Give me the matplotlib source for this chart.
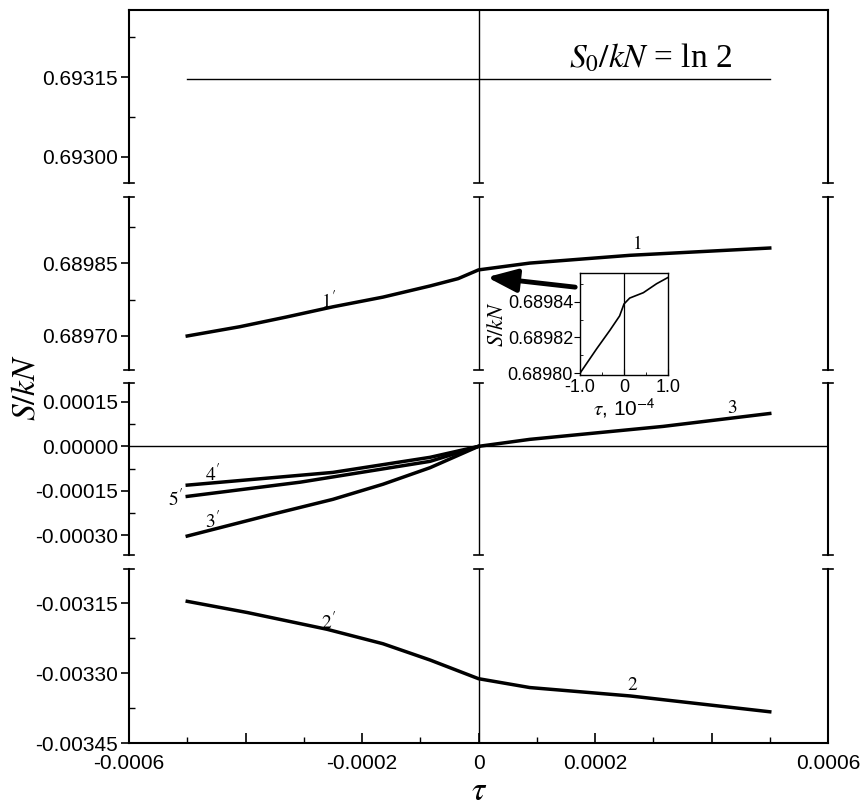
import numpy as np
import matplotlib.pyplot as plt
from matplotlib.ticker import FixedLocator, FormatStrFormatter

plt.rcParams['font.family'] = ['Liberation Sans', 'DejaVu Sans']
plt.rcParams['mathtext.fontset'] = 'stix'

# S0/kN = ln 2 reference level
tau_ln2 = [-5.0e-4, 5.0e-4]
s_ln2 = [np.log(2), np.log(2)]

# curve 1' (tau<0) and 1 (tau>0)
tau_1 = [-5.0e-4, -4.1e-4, -3.3e-4, -2.5e-4, -1.64e-4, -0.83e-4, -0.35e-4, 0.0, 0.88e-4, 2.6e-4, 5.0e-4]
s_1 = [0.68970, 0.689719, 0.689739, 0.68976, 0.68978, 0.689803, 0.689818, 0.689836, 0.68985, 0.689866, 0.689881]

# curve 3' and 3
tau_3 = [-5.0e-4, -3.53e-4, -2.5e-4, -1.64e-4, -0.83e-4, 0.0, 0.88e-4, 3.17e-4, 5.0e-4]
s_3 = [-0.000303, -0.000229, -0.000179, -0.000128, -0.000072, 0.0, 0.0000236, 0.0000674, 0.000111]

# curve 4'
tau_4 = [-5.0e-4, -2.5e-4, -0.83e-4, 0.0]
s_4 = [-0.000131, -0.000088, -0.000037, 0.0]

# curve 5'
tau_5 = [-5.0e-4, -3.06e-4, -0.83e-4, 0.0]
s_5 = [-0.000169, -0.000121, -0.0000506, 0.0]

# curve 2' and 2
tau_2 = [-5.0e-4, -3.97e-4, -2.6e-4, -1.64e-4, -0.83e-4, 0.0, 0.88e-4, 2.6e-4, 5.0e-4]
s_2 = [-0.003146, -0.003170, -0.003206, -0.003237, -0.003272, -0.003312, -0.003331, -0.003349, -0.003383]

# inset, tau in units of 1e-4
tau_in = [-1.0, -0.62, -0.32, -0.1, 0.0, 0.13, 0.44, 0.74, 1.0]
s_in = [0.68980, 0.6898137, 0.689824, 0.689832, 0.6898387, 0.689842, 0.689845, 0.68985, 0.6898535]

x_ticks = [-0.0006, -0.0004, -0.0002, 0.0, 0.0002, 0.0004, 0.0006]
x_labels = ['-0.0006', '', '-0.0002', '0', '0.0002', '', '0.0006']

# panel limits and ticks, top to bottom
ylims = [(0.692951, 0.693276), (0.68963, 0.689986), (-0.000367, 0.000214), (-0.00345, -0.0030766)]
ymajor = [[0.69300, 0.69315], [0.68970, 0.68985], [-0.0003, -0.00015, 0.0, 0.00015],
          [-0.00345, -0.0033, -0.00315]]
yminor = [[0.693075, 0.693225], [0.689775, 0.689925], [-0.000225, -0.000075, 0.000075],
          [-0.003375, -0.003225]]

fig = plt.figure(figsize=(8.63, 8.05), dpi=100)
W, H = 863, 805
left, right = 129, 828
panels_px = [(10, 183), (197, 370), (383, 555), (569, 743)]

axes = []
for i, (top, bot) in enumerate(panels_px):
    ax = fig.add_axes([left / W, 1 - bot / H, (right - left) / W, (bot - top) / H])
    ax.set_xlim(-0.0006, 0.0006)
    ax.set_ylim(*ylims[i])
    ax.yaxis.set_major_locator(FixedLocator(ymajor[i]))
    ax.yaxis.set_minor_locator(FixedLocator(yminor[i]))
    ax.yaxis.set_major_formatter(FormatStrFormatter('%.5f'))
    ax.tick_params(axis='y', which='major', direction='out', length=6, width=1.2, labelsize=15, pad=2)
    ax.tick_params(axis='y', which='minor', direction='in', length=4, width=1.0)
    for s in ax.spines.values():
        s.set_linewidth(1.5)
    ax.spines['top'].set_visible(i == 0)
    ax.spines['bottom'].set_visible(i == 3)
    ax.axvline(0, color='k', lw=1.0)
    if i < 3:
        ax.tick_params(axis='x', which='both', bottom=False, labelbottom=False)
    # break marks at the cut ends
    ends = []
    if i > 0:
        ends.append(1.0)
    if i < 3:
        ends.append(0.0)
    for yy in ends:
        for xx in (0.0, 0.5, 1.0):
            ax.plot([xx - 0.007, xx + 0.007], [yy, yy], color='k', lw=1.2,
                    transform=ax.transAxes, clip_on=False)
    axes.append(ax)

ax1, ax2, ax3, ax4 = axes

ax4.xaxis.set_major_locator(FixedLocator(x_ticks))
ax4.set_xticklabels(x_labels)
ax4.xaxis.set_minor_locator(FixedLocator(np.arange(-0.0005, 0.00051, 0.0002)))
ax4.tick_params(axis='x', which='major', direction='in', length=7, width=1.2, labelsize=15, pad=8)
ax4.tick_params(axis='x', which='minor', direction='in', length=4, width=1.0)

lw = 2.5
ax1.plot(tau_ln2, s_ln2, color='k', lw=1.0)
ax2.plot(tau_1, s_1, color='k', lw=lw)
ax3.axhline(0, color='k', lw=1.0)
ax3.plot(tau_4, s_4, color='k', lw=lw)
ax3.plot(tau_5, s_5, color='k', lw=lw)
ax3.plot(tau_3, s_3, color='k', lw=lw)
ax4.plot(tau_2, s_2, color='k', lw=lw)

lab = dict(fontsize=14, ha='center', va='center')
ax2.text(-0.000258, 0.689772, r"$1'$", **lab)
ax2.text(0.000272, 0.689889, r"$1$", **lab)
ax3.text(0.000435, 0.000127, r"$3$", **lab)
ax3.text(-0.000457, -0.000092, r"$4'$", **lab)
ax3.text(-0.000520, -0.000179, r"$5'$", **lab)
ax3.text(-0.000457, -0.000251, r"$3'$", **lab)
ax4.text(-0.000258, -0.003190, r"$2'$", **lab)
ax4.text(0.000265, -0.003327, r"$2$", **lab)

fig.text(650 / W, 1 - 58 / H, r'$S_0/kN$ = ln 2', fontsize=24, ha='center', va='center',
         family=['Liberation Serif', 'DejaVu Serif'])
fig.text(26 / W, 1 - 387 / H, r'$S/kN$', fontsize=24, rotation=90, ha='center', va='center')
fig.text(479 / W, 1 - 791 / H, r'$\tau$', fontsize=24, ha='center', va='center')

# arrow from the inset to the kink
ax2.annotate('', xy=(0.0000146, 0.689821), xytext=(0.000166, 0.6898005),
             arrowprops=dict(arrowstyle='-|>,head_length=0.9,head_width=0.35', lw=3.5,
                             color='k', mutation_scale=20, shrinkA=0, shrinkB=0))

# inset
axi = fig.add_axes([580 / W, 1 - 375 / H, 88 / W, 102 / H])
axi.plot(tau_in, s_in, color='k', lw=1.2)
axi.axvline(0, color='k', lw=0.9)
axi.set_xlim(-1.0, 1.0)
axi.set_ylim(0.689799, 0.689856)
axi.xaxis.set_major_locator(FixedLocator([-1.0, 0.0, 1.0]))
axi.set_xticklabels(['-1.0', '0', '1.0'])
axi.xaxis.set_minor_locator(FixedLocator([-0.5, 0.5]))
axi.yaxis.set_major_locator(FixedLocator([0.68980, 0.68982, 0.68984]))
axi.yaxis.set_minor_locator(FixedLocator([0.68981, 0.68983, 0.68985]))
axi.yaxis.set_major_formatter(FormatStrFormatter('%.5f'))
axi.tick_params(axis='x', which='major', direction='in', length=4, labelsize=13, pad=3)
axi.tick_params(axis='x', which='minor', direction='in', length=2.5)
axi.tick_params(axis='y', which='major', direction='out', length=4, labelsize=13, pad=1)
axi.tick_params(axis='y', which='minor', direction='in', length=2.5)
for s in axi.spines.values():
    s.set_linewidth(1.0)
axi.set_ylabel(r'$S/kN$', fontsize=16, labelpad=0)
axi.set_xlabel(r'$\tau$, 10$^{\mathsf{-4}}$', fontsize=15, labelpad=0)

fig.savefig('out.png', dpi=100)
